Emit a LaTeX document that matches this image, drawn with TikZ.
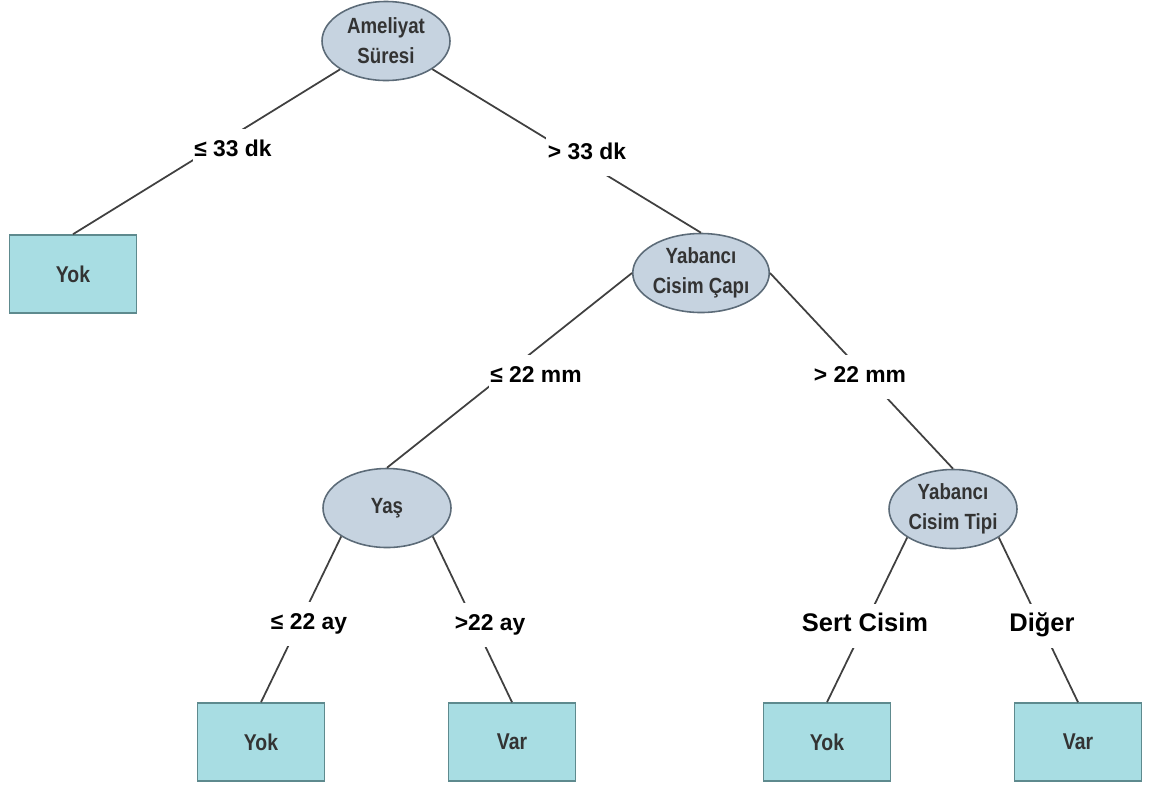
\documentclass[tikz,border=0pt]{standalone}
\usepackage{fontspec}
\setmainfont{Liberation Sans}
\newfontfamily\narrowsf[FakeStretch=0.85]{Liberation Sans}
\usetikzlibrary{shapes.geometric}
\definecolor{splitfill}{HTML}{C6D3E0}
\definecolor{splitline}{HTML}{5C6B78}
\definecolor{leaffill}{HTML}{A8DDE3}
\definecolor{leafline}{HTML}{5E8A8E}

\begin{document}
\begin{tikzpicture}[
  split/.style={ellipse, draw=splitline, fill=splitfill, line width=0.9pt,
    minimum width=2.56cm, minimum height=1.58cm, inner sep=0pt, align=center,
    font=\narrowsf\bfseries\fontsize{12.5}{17}\selectfont, text=black!80},
  leaf/.style={rectangle, draw=leafline, fill=leaffill, line width=0.9pt,
    minimum width=2.54cm, minimum height=1.56cm, inner sep=0pt,
    font=\narrowsf\bfseries\fontsize{13}{15}\selectfont, text=black!80},
  cond/.style={fill=white, inner xsep=1pt, inner ysep=0.25cm,
    text height=1.6ex, text depth=0.4ex,
    font=\bfseries\fontsize{13}{15}\selectfont},
  bigcond/.style={cond, font=\bfseries\fontsize{14.5}{17}\selectfont},
  branch/.style={draw=black!75, line width=1pt}]
  \useasboundingbox (0,0) rectangle (23.1,-15.78);
  % split nodes
  \node[split] (root) at (7.72,-0.82) {Ameliyat\\Süresi};
  \node[split] (cap) at (14.02,-5.46) {Yabancı\\Cisim Çapı};
  \node[split] (yas) at (7.74,-10.16) {Yaş};
  \node[split] (tipi) at (19.06,-10.18) {Yabancı\\Cisim Tipi};
  % leaves
  \node[leaf] (yok1) at (1.46,-5.48) {Yok};
  \node[leaf] (yok2) at (5.22,-14.84) {Yok};
  \node[leaf] (var1) at (10.24,-14.84) {Var};
  \node[leaf] (yok3) at (16.54,-14.84) {Yok};
  \node[leaf] (var2) at (21.56,-14.84) {Var};
  % branches
  \draw[branch] (root) -- (yok1.north);
  \draw[branch] (root) -- (cap.north);
  \draw[branch] (cap.west) -- (yas.north);
  \draw[branch] (cap.east) -- (tipi.north);
  \draw[branch] (yas.south west) -- (yok2.north);
  \draw[branch] (yas.south east) -- (var1.north);
  \draw[branch] (tipi.south west) -- (yok3.north);
  \draw[branch] (tipi.south east) -- (var2.north);
  % branch labels
  \node[cond] (c1) at (4.66,-3.02) {≤ 33 dk};
  \node[cond] (c2) at (11.74,-3.08) {> 33 dk};
  \node[cond] (c3) at (10.72,-7.54) {≤ 22 mm};
  \node[cond] (c4) at (17.20,-7.54) {> 22 mm};
  \node[cond] (c5) at (6.18,-12.48) {≤ 22 ay};
  \node[cond] (c6) at (9.80,-12.50) {>22 ay};
  \node[bigcond] (c7) at (17.30,-12.52) {Sert Cisim};
  \node[bigcond] (c8) at (20.84,-12.52) {Diğer};
\end{tikzpicture}
\end{document}
